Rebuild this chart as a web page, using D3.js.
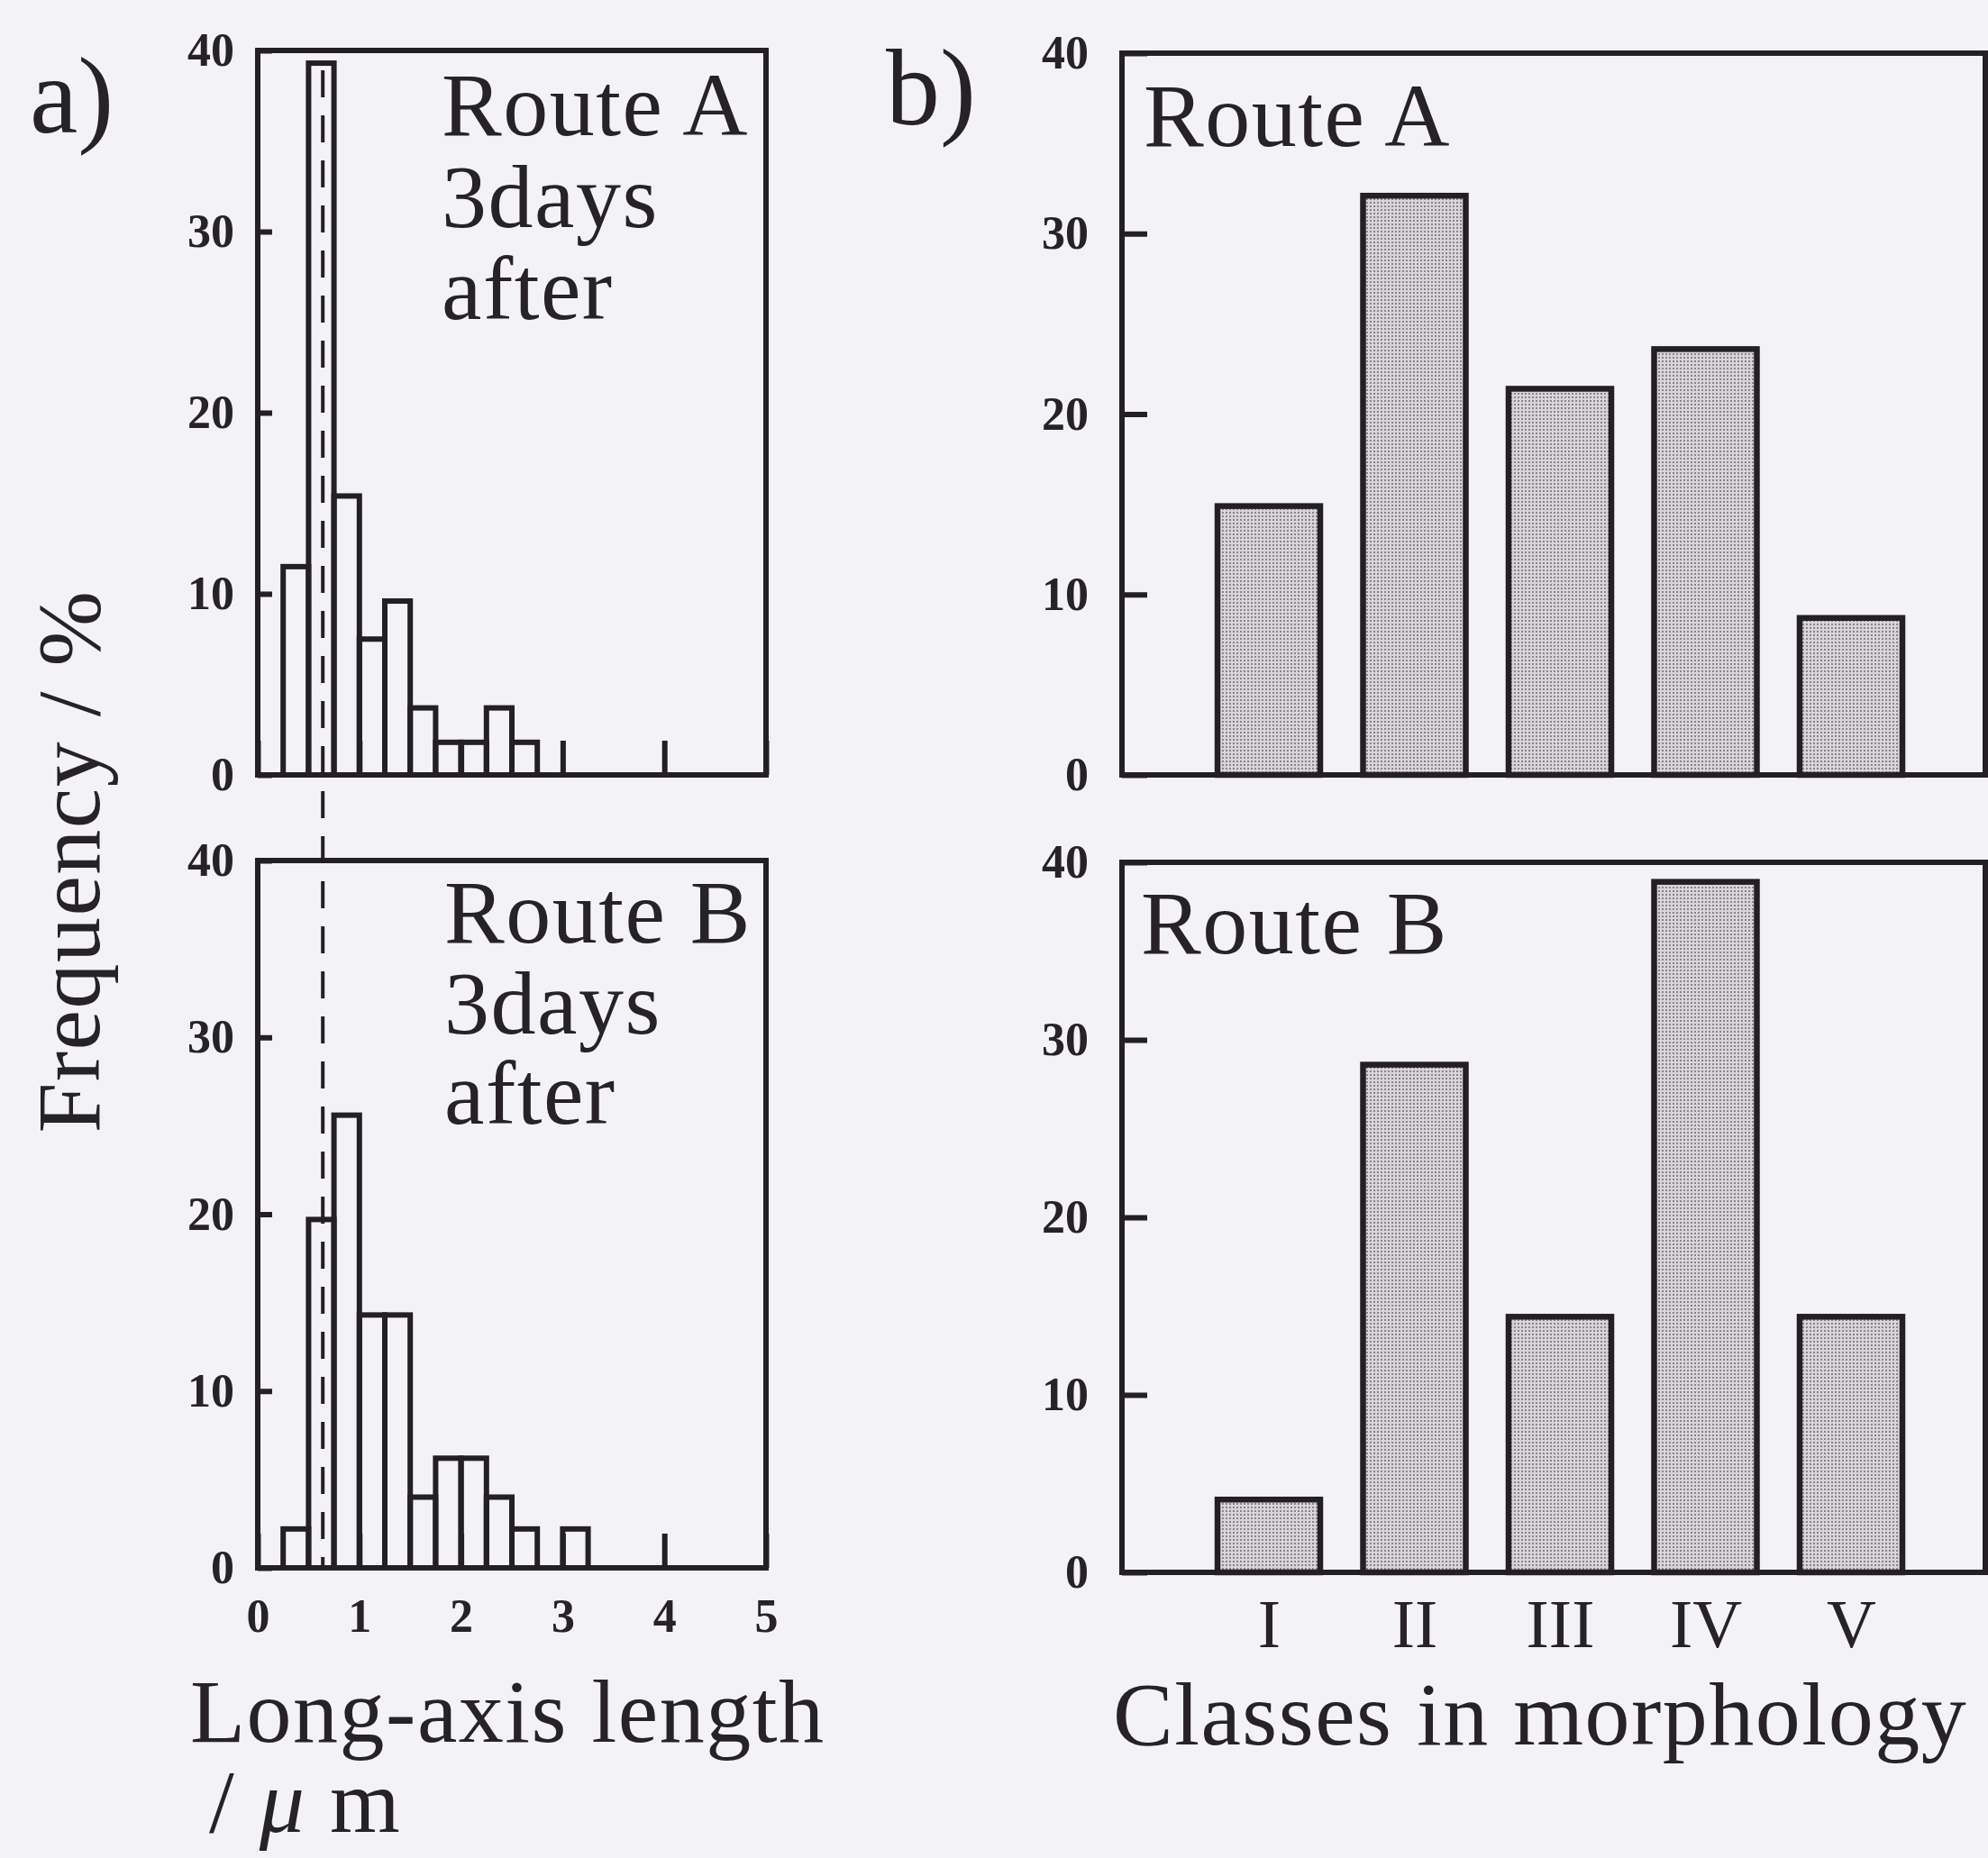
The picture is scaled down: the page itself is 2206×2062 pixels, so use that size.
<!DOCTYPE html>
<html>
<head>
<meta charset="utf-8">
<script src="https://cdn.jsdelivr.net/npm/d3@7"></script>
<style>
  body { margin: 0; background: #f3f2f5; }
  text { font-family: "Liberation Serif", "Times New Roman", serif; fill: #262226; }
  .big { font-size: 100px; letter-spacing: 1.5px; }
</style>
</head>
<body>
<svg id="chart" width="2206" height="2062"></svg>
<script>
// a) histogram of long-axis length, bins 0.25 um wide
const binStarts = [0.25, 0.5, 0.75, 1.0, 1.25, 1.5, 1.75, 2.0, 2.25, 2.5, 2.75, 3.0];
const histRouteA = [11.5, 39.3, 15.4, 7.5, 9.6, 3.7, 1.8, 1.8, 3.7, 1.8, 0, 0];
const histRouteB = [2.2, 19.7, 25.6, 14.3, 14.3, 4.0, 6.2, 6.2, 4.0, 2.2, 0, 2.2];
const binWidth = 0.25;
const meanLength = 0.64;

// b) morphology classes
const classes = ["I", "II", "III", "IV", "V"];
const morphRouteA = [14.9, 32.1, 21.4, 23.6, 8.7];
const morphRouteB = [4.1, 28.6, 14.4, 38.9, 14.4];

const freqTicks = [0, 10, 20, 30, 40];
const lengthTicks = [0, 1, 2, 3, 4, 5];

const ink = '#231f23';
const svg = d3.select('#chart');

svg.append('rect').attr('width', 2206).attr('height', 2062).attr('fill', '#f3f2f5');

// stipple for the class bars
const pat = svg.append('defs').append('pattern')
  .attr('id', 'stipple').attr('width', 4).attr('height', 4)
  .attr('patternUnits', 'userSpaceOnUse');
pat.append('rect').attr('width', 4).attr('height', 4).attr('fill', '#d8d4d9');
pat.append('rect').attr('width', 2).attr('height', 2).attr('fill', '#8a848c');

const xLen = d3.scaleLinear().domain([0, 5]).range([286, 850]);
const yA1 = d3.scaleLinear().domain([0, 40]).range([860, 56]);
const yA2 = d3.scaleLinear().domain([0, 40]).range([1740, 955]);

const xCls = d3.scalePoint().domain(classes).range([1408, 2054]);
const barW = 114;
const yB1 = d3.scaleLinear().domain([0, 40]).range([860, 59]);
const yB2 = d3.scaleLinear().domain([0, 40]).range([1745, 957]);

function styleAxis(g, fontSize, weight) {
  g.select('.domain').remove();
  g.selectAll('.tick line').attr('stroke', ink).attr('stroke-width', 6);
  g.selectAll('.tick text')
    .attr('fill', ink)
    .style('font-family', '"Liberation Serif", "Times New Roman", serif')
    .style('font-size', fontSize + 'px')
    .style('font-weight', weight);
}

function histPanel(y, values, lines, lineX, baselines, showX) {
  const data = binStarts.map((b, i) => ({ b: b, v: values[i] })).filter(d => d.v > 0);

  svg.append('g').selectAll('rect')
    .data(data)
    .enter()
    .append('rect')
    .attr('x', d => xLen(d.b))
    .attr('width', d => xLen(d.b + binWidth) - xLen(d.b))
    .attr('y', d => y(d.v))
    .attr('height', d => y(0) - y(d.v))
    .attr('fill', 'none')
    .attr('stroke', ink)
    .attr('stroke-width', 6);

  const gy = svg.append('g')
    .attr('transform', `translate(${xLen(0)},0)`)
    .call(d3.axisLeft(y).tickValues(freqTicks).tickSizeInner(-16).tickSizeOuter(0).tickPadding(26));
  styleAxis(gy, 52, 'bold');

  const gx = svg.append('g')
    .attr('transform', `translate(0,${y(0)})`)
    .call(d3.axisBottom(xLen).tickValues(lengthTicks).tickFormat(d3.format('d'))
      .tickSizeInner(-38).tickSizeOuter(0).tickPadding(34));
  styleAxis(gx, 52, 'bold');
  if (!showX) gx.selectAll('.tick text').remove();

  svg.append('rect')
    .attr('x', xLen(0)).attr('y', y(40))
    .attr('width', xLen(5) - xLen(0)).attr('height', y(0) - y(40))
    .attr('fill', 'none').attr('stroke', ink).attr('stroke-width', 6);

  lines.forEach((t, i) => {
    svg.append('text').attr('class', 'big').attr('x', lineX).attr('y', baselines[i]).text(t);
  });
}

function classPanel(y, values, label, labelX, labelY, showX) {
  const data = classes.map((c, i) => ({ c: c, v: values[i] }));

  svg.append('g').selectAll('rect')
    .data(data)
    .enter()
    .append('rect')
    .attr('x', d => xCls(d.c) - barW / 2)
    .attr('width', barW)
    .attr('y', d => y(d.v))
    .attr('height', d => y(0) - y(d.v))
    .attr('fill', 'url(#stipple)')
    .attr('stroke', ink)
    .attr('stroke-width', 6.5);

  const gy = svg.append('g')
    .attr('transform', 'translate(1245,0)')
    .call(d3.axisLeft(y).tickValues(freqTicks).tickSizeInner(-28).tickSizeOuter(0).tickPadding(37));
  styleAxis(gy, 52, 'bold');

  if (showX) {
    const gx = svg.append('g')
      .attr('transform', `translate(0,${y(0)})`)
      .call(d3.axisBottom(xCls).tickSize(0).tickPadding(29));
    styleAxis(gx, 76, 'normal');
  }

  svg.append('rect')
    .attr('x', 1245).attr('y', y(40))
    .attr('width', 2203 - 1245).attr('height', y(0) - y(40))
    .attr('fill', 'none').attr('stroke', ink).attr('stroke-width', 6);

  svg.append('text').attr('class', 'big').attr('x', labelX).attr('y', labelY).text(label);
}

histPanel(yA1, histRouteA, ['Route A', '3days', 'after'], 490, [150, 252, 354], false);
histPanel(yA2, histRouteB, ['Route B', '3days', 'after'], 493, [1046, 1147, 1247], true);

// dashed marker running through both histograms
svg.append('line')
  .attr('x1', xLen(meanLength)).attr('x2', xLen(meanLength))
  .attr('y1', 78).attr('y2', yA2(0))
  .attr('stroke', ink).attr('stroke-width', 4)
  .attr('stroke-dasharray', '30 20');

classPanel(yB1, morphRouteA, 'Route A', 1269, 162, false);
classPanel(yB2, morphRouteB, 'Route B', 1266, 1058, true);

// panel letters and axis titles
svg.append('text').attr('x', 33).attr('y', 147).style('font-size', '120px').text('a)');
svg.append('text').attr('x', 983).attr('y', 138).style('font-size', '120px').text('b)');

svg.append('text')
  .attr('class', 'big')
  .attr('transform', 'translate(110,956) rotate(-90)')
  .attr('text-anchor', 'middle')
  .text('Frequency / %');

svg.append('text').attr('class', 'big').attr('x', 211).attr('y', 1933).text('Long-axis length');
const unit = svg.append('text').attr('class', 'big').attr('x', 232).attr('y', 2033);
unit.append('tspan').text('/ ');
unit.append('tspan').style('font-style', 'italic').text('\u03bc');
unit.append('tspan').text(' m');

svg.append('text').attr('class', 'big').attr('x', 1235).attr('y', 1936).text('Classes in morphology');
</script>
</body>
</html>
